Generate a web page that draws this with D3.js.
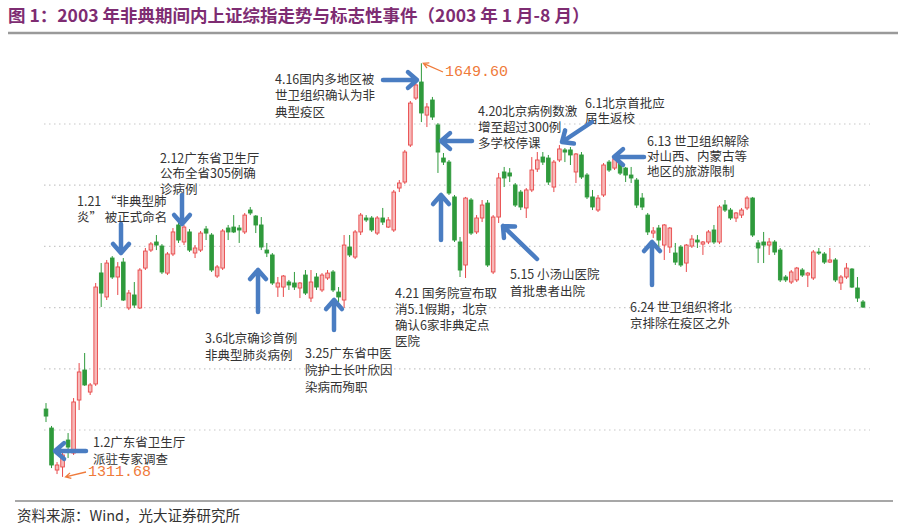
<!DOCTYPE html>
<html><head><meta charset="utf-8">
<script src="https://cdn.jsdelivr.net/npm/d3@7"></script>
<style>body{margin:0;background:#fff}svg{display:block}</style>
</head><body>
<svg id="c" width="906" height="530"></svg>
<script>
// ---- data (Shanghai Composite daily candles, Jan–Aug 2003) ----
const open=[1367.1,1351.6,1317.3,1319.8,1341.8,1331.2,1374.5,1399.0,1381.0,1387.6,
1478.3,1458.7,1490.5,1475.0,1487.2,1449.7,1460.3,1449.7,1482.3,1497.0,
1503.6,1500.3,1478.2,1493.8,1517.5,1503.6,1511.8,1494.6,1497.0,1514.2,
1509.3,1475.8,1482.3,1515.0,1515.8,1515.0,1511.8,1529.7,1524.8,1517.5,
1497.0,1493.0,1466.8,1466.8,1470.9,1470.1,1466.0,1476.6,1457.8,1475.0,
1464.4,1474.2,1479.1,1462.7,1456.2,1499.5,1491.3,1511.8,1523.2,1523.2,
1510.9,1523.2,1515.8,1513.4,1547.7,1552.6,1582.8,1621.2,1634.3,1607.3,
1619.6,1599.2,1572.2,1568.9,1540.4,1503.6,1484.8,1537.9,1511.8,1523.2,
1535.4,1479.1,1524.0,1560.8,1560.0,1550.2,1544.4,1531.4,1546.1,1563.2,
1573.0,1572.2,1548.5,1570.6,1578.8,1578.8,1560.8,1574.7,1558.3,1540.4,
1529.7,1542.0,1568.9,1564.0,1568.1,1564.0,1558.3,1554.2,1539.5,1525.6,
1510.9,1515.0,1501.1,1499.5,1494.6,1499.5,1486.4,1500.3,1505.2,1501.9,
1503.6,1513.4,1503.6,1533.8,1529.7,1523.2,1525.6,1531.4,1539.5,1502.8,
1503.6,1501.1,1503.6,1497.0,1475.0,1470.9,1472.6,1480.7,1476.6,1474.2,
1495.4,1493.8,1487.2,1488.9,1470.1,1475.0,1481.5,1466.0,1454.6];
const high=[1372.0,1353.3,1323.8,1332.0,1347.5,1376.1,1404.7,1412.9,1388.4,1470.1,
1486.4,1488.9,1492.1,1487.2,1490.5,1464.4,1470.9,1482.3,1498.7,1503.6,
1509.3,1501.9,1495.4,1515.0,1519.9,1517.5,1514.2,1501.1,1512.6,1516.7,
1510.9,1484.8,1514.2,1517.5,1525.6,1517.5,1527.3,1532.2,1525.6,1524.0,
1502.8,1494.6,1475.0,1476.6,1472.6,1479.1,1470.9,1480.7,1480.7,1478.2,
1478.2,1480.7,1480.7,1466.8,1509.3,1509.3,1513.4,1527.3,1525.6,1524.8,
1524.8,1531.4,1524.0,1546.1,1554.2,1578.8,1618.8,1633.5,1649.6,1617.1,
1622.1,1600.8,1576.3,1570.6,1542.0,1507.7,1540.4,1539.5,1525.6,1537.9,
1537.9,1525.6,1560.0,1564.9,1564.0,1551.8,1546.1,1547.7,1573.0,1577.1,
1577.1,1574.7,1570.6,1582.8,1580.4,1581.2,1576.3,1577.1,1559.9,1546.1,
1542.0,1568.1,1570.6,1573.0,1570.6,1564.9,1564.9,1555.9,1543.6,1527.3,
1515.8,1517.5,1518.3,1515.8,1502.8,1501.1,1501.9,1509.3,1509.3,1504.4,
1513.4,1517.5,1533.8,1537.9,1531.4,1528.1,1531.4,1541.2,1540.4,1505.2,
1511.8,1506.9,1505.2,1498.7,1476.6,1480.7,1483.2,1482.3,1479.1,1497.0,
1498.7,1495.4,1498.7,1490.5,1476.6,1486.4,1482.3,1475.0,1456.2];
const low=[1356.5,1318.9,1314.0,1311.68,1327.1,1329.6,1366.3,1386.0,1378.6,1386.0,
1450.5,1456.2,1473.4,1460.3,1455.4,1448.0,1449.7,1448.9,1480.7,1495.4,
1497.0,1477.4,1476.6,1492.1,1502.8,1501.1,1495.4,1490.5,1495.4,1505.2,
1479.1,1474.2,1480.7,1505.2,1510.9,1502.8,1510.1,1525.6,1510.9,1497.0,
1491.3,1468.5,1458.7,1458.7,1464.4,1464.4,1457.8,1460.3,1454.6,1464.4,
1462.7,1472.6,1462.7,1454.6,1449.7,1491.3,1489.7,1509.3,1519.9,1511.8,
1509.3,1517.5,1515.0,1511.8,1544.4,1551.0,1581.2,1619.6,1601.6,1597.5,
1603.3,1560.0,1566.5,1542.0,1503.6,1475.0,1474.2,1509.3,1510.1,1519.9,
1483.2,1477.4,1519.1,1548.5,1552.6,1532.2,1529.7,1523.2,1544.4,1560.8,
1566.5,1550.2,1544.4,1568.9,1568.9,1566.5,1551.8,1555.1,1538.7,1529.7,
1528.1,1540.4,1560.8,1562.4,1558.3,1552.6,1551.8,1531.4,1529.7,1509.3,
1506.9,1499.5,1488.9,1494.6,1484.8,1483.2,1479.1,1498.7,1498.7,1493.0,
1501.9,1501.9,1501.9,1528.1,1521.6,1519.9,1523.2,1529.7,1507.7,1486.4,
1486.4,1493.0,1493.0,1470.9,1470.9,1469.3,1470.9,1475.0,1466.8,1472.6,
1493.0,1485.6,1486.4,1470.9,1464.4,1473.4,1466.0,1454.6,1449.7];
const close=[1361.4,1321.4,1321.4,1329.6,1336.1,1372.9,1397.4,1386.8,1386.8,1466.8,
1461.9,1486.4,1475.0,1483.2,1456.2,1461.9,1452.1,1480.7,1496.2,1502.0,
1501.1,1479.1,1493.8,1511.8,1505.2,1515.8,1497.0,1498.7,1510.9,1510.9,
1480.7,1483.2,1512.6,1511.8,1511.8,1513.4,1525.6,1527.3,1517.5,1499.5,
1494.6,1470.1,1470.1,1475.8,1468.5,1466.8,1470.1,1461.9,1470.9,1466.8,
1476.6,1478.2,1464.4,1458.7,1501.1,1493.0,1511.8,1525.6,1521.6,1513.4,
1523.2,1519.9,1521.6,1544.4,1551.8,1577.1,1617.1,1631.9,1609.0,1613.9,
1605.7,1577.1,1568.9,1543.6,1505.2,1480.7,1539.5,1510.9,1523.2,1533.8,
1484.8,1524.0,1555.9,1555.9,1557.5,1533.8,1532.2,1546.1,1562.4,1570.6,
1568.9,1552.6,1568.9,1579.6,1577.1,1574.7,1575.5,1556.7,1540.4,1532.2,
1539.5,1566.5,1562.4,1571.4,1559.9,1558.3,1555.9,1533.8,1532.2,1511.8,
1512.6,1505.2,1517.5,1515.0,1487.2,1484.8,1501.1,1506.0,1503.6,1503.6,
1511.8,1503.6,1532.2,1529.7,1523.2,1527.3,1529.7,1539.5,1509.3,1498.7,
1501.1,1503.6,1495.4,1472.6,1472.6,1479.1,1482.3,1476.6,1478.2,1495.4,
1494.6,1487.2,1488.9,1472.6,1475.0,1482.3,1466.8,1457.8,1450.5];
const gridValues=[1350,1400,1450,1500,1550,1600];
const lowLabel="1311.68";
const highLabel="1649.60";
const titleText="图 1：2003 年非典期间内上证综指走势与标志性事件（2003 年 1 月-8 月）";
const sourceText="资料来源：Wind，光大证券研究所";
const eventTexts=[
 ["1.2广东省卫生厅","派驻专家调查"],
 ["1.21 “非典型肺","炎” 被正式命名"],
 ["2.12广东省卫生厅","公布全省305例确","诊病例"],
 ["3.6北京确诊首例","非典型肺炎病例"],
 ["3.25广东省中医","院护士长叶欣因","染病而殉职"],
 ["4.16国内多地区被","世卫组织确认为非","典型疫区"],
 ["4.20北京病例数激","增至超过300例，","多学校停课"],
 ["4.21 国务院宣布取","消5.1假期，北京","确认6家非典定点","医院"],
 ["5.15 小汤山医院","首批患者出院"],
 ["6.1北京首批应","届生返校"],
 ["6.13 世卫组织解除","对山西、内蒙古等","地区的旅游限制"],
 ["6.24 世卫组织将北","京排除在疫区之外"]
];

// ---- layout ----
const eventLayout=[
 {tx:93,ty:441,lh:17,a:[86,451,55,451]},
 {tx:77,ty:200,lh:16,a:[121,224,121,253]},
 {tx:160,ty:157,lh:15.5,a:[182,195,182,224]},
 {tx:205,ty:337,lh:17,a:[258,312,258,270]},
 {tx:305,ty:352,lh:17,a:[334,330,334,300]},
 {tx:275,ty:78,lh:16.5,a:[383,80,417,80]},
 {tx:478,ty:110,lh:16,a:[472,141,441,141]},
 {tx:395,ty:292,lh:16,a:[441,240,441,195]},
 {tx:510,ty:273,lh:17,a:[537,259,503,226]},
 {tx:585,ty:102,lh:15,a:[592,122,562,142]},
 {tx:647,ty:140,lh:15.2,a:[644,157,614,157]},
 {tx:630,ty:306,lh:16.5,a:[652,285,652,242]}
];
const svg=d3.select("#c");
const x=d3.scaleLinear().domain([0,open.length-1]).range([46,863]);
const y=d3.scaleLinear().domain([1350,1600]).range([430,124]);
const CJK="'Noto Sans CJK SC','Noto Sans',sans-serif";

// title
svg.append("text").attr("x",8).attr("y",21.5).text(titleText)
 .attr("font-family",CJK).attr("font-weight","bold").attr("font-size",17.5).attr("fill","#7e2c72");
svg.append("line").attr("x1",8).attr("x2",898).attr("y1",33).attr("y2",33).attr("stroke","#9a9a9a").attr("stroke-width",2.5);

// grid
svg.append("g").selectAll("line").data(gridValues).join("line")
 .attr("x1",44).attr("x2",870).attr("y1",d=>y(d)).attr("y2",d=>y(d))
 .attr("stroke","#c8c8c8").attr("stroke-width",1.2).attr("stroke-dasharray","1.5,3.5");

// candles
const idx=d3.range(open.length);
const UP_F="#f7b9b9",UP_S="#e8494a",DN="#2f9a3c";
const g=svg.append("g");
g.selectAll("line.w").data(idx).join("line").attr("class","w")
 .attr("x1",i=>x(i)).attr("x2",i=>x(i)).attr("y1",i=>y(high[i])).attr("y2",i=>y(low[i]))
 .attr("stroke",i=>close[i]>=open[i]?UP_S:DN).attr("stroke-width",1);
g.selectAll("rect").data(idx).join("rect")
 .attr("x",i=>x(i)-1.8).attr("width",3.6)
 .attr("y",i=>y(Math.max(open[i],close[i])))
 .attr("height",i=>Math.max(1,Math.abs(y(open[i])-y(close[i]))))
 .attr("fill",i=>close[i]>=open[i]?UP_F:DN)
 .attr("stroke",i=>close[i]>=open[i]?UP_S:DN).attr("stroke-width",0.9);

// extreme labels
const iLow=low.indexOf(d3.min(low)), iHigh=high.indexOf(d3.max(high));
function thinArrow(x1,y1,x2,y2,col){
 const ang=Math.atan2(y2-y1,x2-x1),L=6,s=0.5;
 svg.append("path").attr("d",`M${x1},${y1}L${x2},${y2}M${x2-L*Math.cos(ang-s)},${y2-L*Math.sin(ang-s)}L${x2},${y2}L${x2-L*Math.cos(ang+s)},${y2-L*Math.sin(ang+s)}`)
  .attr("fill","none").attr("stroke",col).attr("stroke-width",1.3);
}
const ORG="#ef7a3a";
thinArrow(86,472,x(iLow)+3,y(low[iLow]),ORG);
svg.append("text").attr("x",88).attr("y",472).attr("dominant-baseline","central").text(lowLabel)
 .attr("font-family","'Liberation Mono',monospace").attr("font-size",15).attr("fill",ORG);
thinArrow(443,72,x(iHigh)+2,y(high[iHigh]),ORG);
svg.append("text").attr("x",445).attr("y",72).attr("dominant-baseline","central").text(highLabel)
 .attr("font-family","'Liberation Mono',monospace").attr("font-size",15).attr("fill",ORG);

// event annotations
const BLUE="#4a7dc2";
function bigArrow(x1,y1,x2,y2){
 const ang=Math.atan2(y2-y1,x2-x1),L=12,s=0.72;
 svg.append("path").attr("d",`M${x1},${y1}L${x2},${y2}M${x2-L*Math.cos(ang-s)},${y2-L*Math.sin(ang-s)}L${x2},${y2}L${x2-L*Math.cos(ang+s)},${y2-L*Math.sin(ang+s)}`)
  .attr("fill","none").attr("stroke",BLUE).attr("stroke-width",4.5).attr("stroke-linecap","round").attr("stroke-linejoin","round");
}
eventTexts.forEach((lines,k)=>{
 const L=eventLayout[k];
 const t=svg.append("text").attr("font-family",CJK).attr("font-size",12.5).attr("fill","#333");
 lines.forEach((s,j)=>t.append("tspan").attr("x",L.tx).attr("y",L.ty+j*L.lh).attr("dominant-baseline","central").text(s));
 bigArrow(...L.a);
});

// source
svg.append("line").attr("x1",15).attr("x2",893).attr("y1",501).attr("y2",501).attr("stroke","#8a8a8a").attr("stroke-width",1.5);
svg.append("text").attr("x",17).attr("y",514).attr("dominant-baseline","central").text(sourceText)
 .attr("font-family",CJK).attr("font-size",14.5).attr("fill","#333");
</script></body></html>
